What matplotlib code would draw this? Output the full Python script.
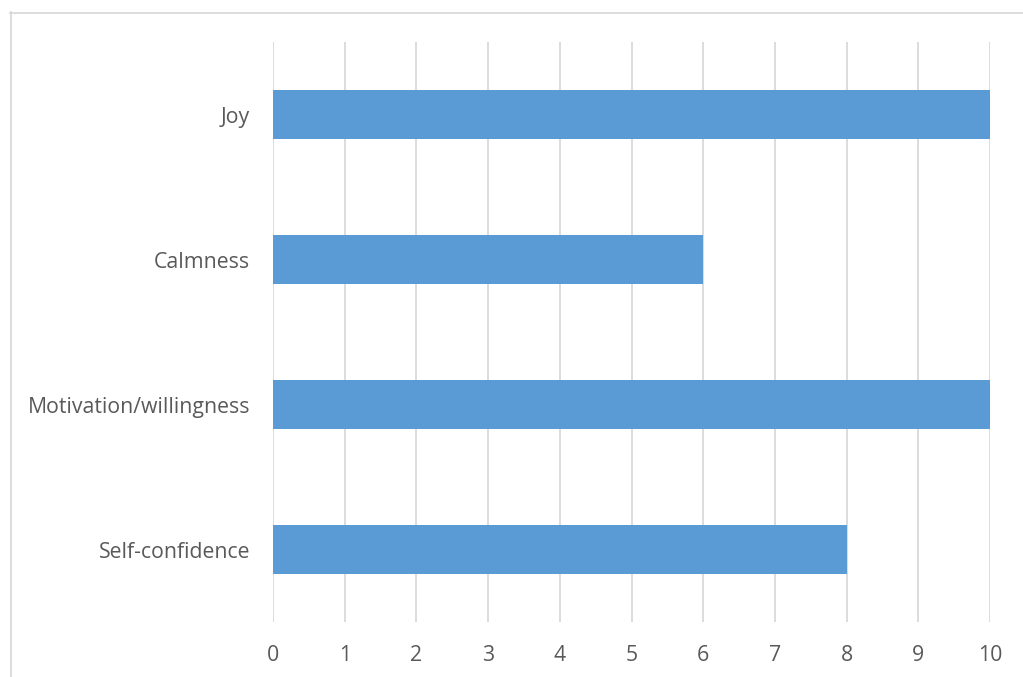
import matplotlib.pyplot as plt
from matplotlib.lines import Line2D

# Données du graphique (de bas en haut)
categories = ["Self-confidence", "Motivation/willingness", "Calmness", "Joy"]
valeurs = [8, 10, 6, 10]
graduations = list(range(0, 11))

W, H = 1023, 677
fig = plt.figure(figsize=(W / 100, H / 100), dpi=100)
plt.rcParams["font.family"] = ["Open Sans", "DejaVu Sans"]

ax = fig.add_axes([273 / W, 55 / H, (990 - 273) / W, (622 - 42) / H])

ax.barh(range(len(categories)), valeurs, height=0.344, color="#5B9BD5", zorder=3)

ax.set_xlim(0, 10)
ax.set_ylim(-0.5, len(categories) - 0.5)
ax.set_xticks(graduations)
ax.set_xticklabels([str(g) for g in graduations])
ax.set_yticks(range(len(categories)))
ax.set_yticklabels(categories)

ax.grid(axis="x", color="#D9D9D9", linewidth=1.3, zorder=0)
for s in ax.spines.values():
    s.set_visible(False)
ax.tick_params(axis="both", length=0, labelsize=15.3, colors="#595959")
ax.tick_params(axis="x", pad=16.5)
ax.tick_params(axis="y", pad=16.5)

# Cadre de la zone de graphique (bords haut et gauche)
fig.add_artist(Line2D([10.5 / W, 10.5 / W], [0, 1 - 12 / H], transform=fig.transFigure,
                      color="#D9D9D9", linewidth=1.3))
fig.add_artist(Line2D([10 / W, 1], [1 - 12.5 / H, 1 - 12.5 / H], transform=fig.transFigure,
                      color="#D9D9D9", linewidth=1.3))

fig.savefig("out.png", dpi=100)
